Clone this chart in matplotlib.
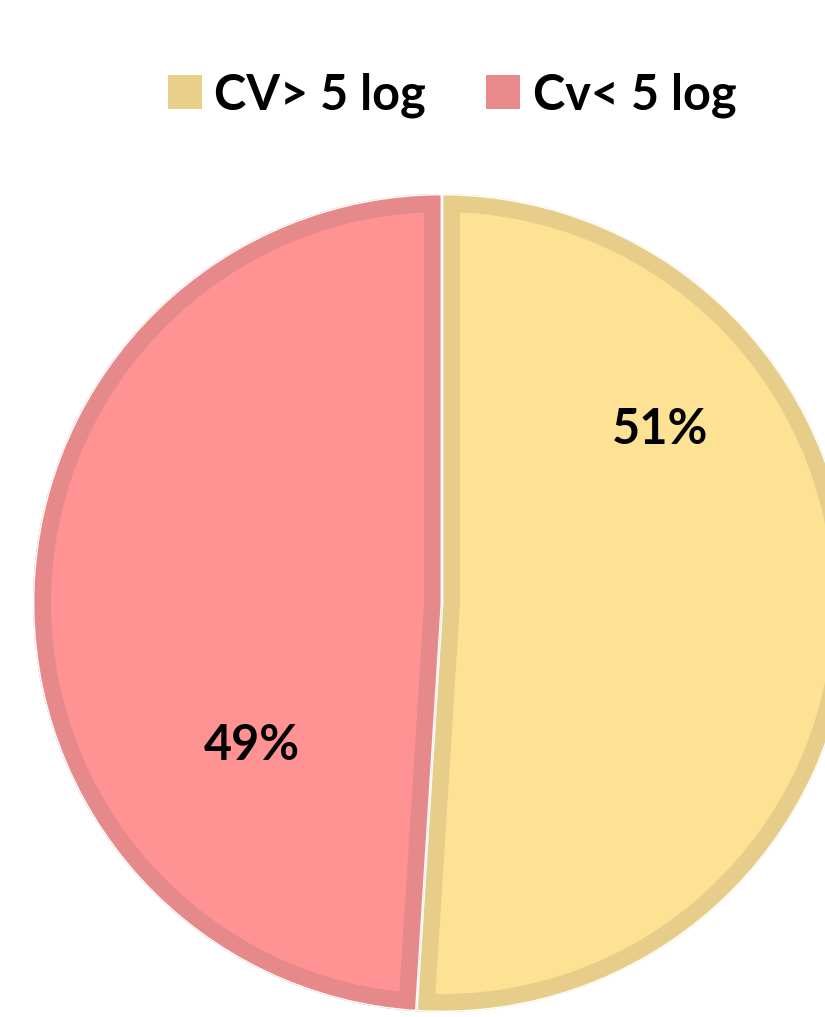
import matplotlib
matplotlib.use("Agg")
import matplotlib.pyplot as plt
from matplotlib.patches import Patch

labels = ["CV> 5 log", "Cv< 5 log"]
values = [51, 49]
fill_colors = ["#FEE294", "#FF9393"]
edge_colors = ["#E6CE8A", "#E5898B"]
legend_colors = ["#E8D08A", "#E8898B"]

W, H = 825, 1017
fig = plt.figure(figsize=(W / 100, H / 100), dpi=100)
ax = fig.add_axes([0, 0, 1, 1])

cx, cy, R = 442, H - 603, 409
font = "Lato"
band_px = 18


def fix_axes():
    ax.set_xlim(0, W)
    ax.set_ylim(0, H)
    ax.set_aspect("equal")
    ax.axis("off")


wedges, _ = ax.pie(values, colors=fill_colors, startangle=90, counterclock=False,
                   center=(cx, cy), radius=R, frame=True)
for w, ec in zip(wedges, edge_colors):
    w.set_edgecolor(ec)
    w.set_linewidth(2 * band_px * 0.72)
    w.set_joinstyle("miter")
    w.set_clip_on(True)
    w.set_clip_path(w)

# thin white separator between slices
wedges2, _ = ax.pie(values, startangle=90, counterclock=False,
                    center=(cx, cy), radius=R, frame=True,
                    wedgeprops=dict(edgecolor="white", linewidth=2.0, facecolor="none"))
for w in wedges2:
    w.set_clip_on(True)
    w.set_clip_path(w)
fix_axes()

# data labels
label_pos = [(660, H - 429), (252, H - 746)]
for v, (x, y) in zip(values, label_pos):
    ax.text(x, y, f"{v}%", ha="center", va="center", fontsize=35,
            fontweight="bold", family=font, color="black")

handles = [Patch(facecolor=c, edgecolor="none") for c in legend_colors]
fig.legend(handles, labels, loc="center", bbox_to_anchor=(452 / W, 1 - 95 / H),
           ncol=2, frameon=False, prop=dict(family=font, weight="bold", size=35),
           handlelength=0.7, handleheight=0.7, handletextpad=0.25,
           columnspacing=1.25, borderaxespad=0, borderpad=0)

fig.savefig("out.png", dpi=100)
